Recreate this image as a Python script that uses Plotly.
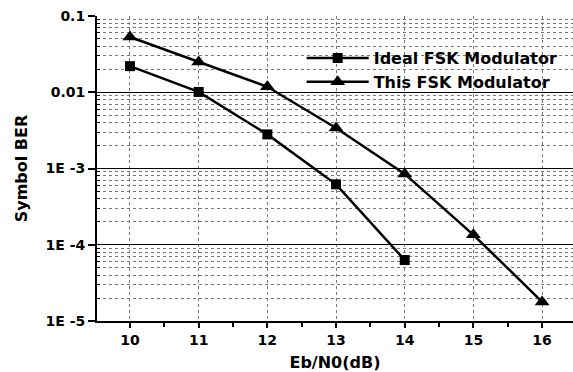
import plotly.graph_objects as go

snr_ideal = [10, 11, 12, 13, 14]
ber_ideal = [0.022, 0.0101, 0.0028, 0.00062, 0.000063]
snr_this = [10, 11, 12, 13, 14, 15, 16]
ber_this = [0.053, 0.025, 0.0118, 0.0034, 0.00085, 0.000135, 0.0000178]

y_tickvals = [1e-1, 1e-2, 1e-3, 1e-4, 1e-5]
y_ticktext = ["0.1", "0.01", "1E -3", "1E -4", "1E -5"]
x_tickvals = [10, 11, 12, 13, 14, 15, 16]
y_major_grid = [1e-2, 1e-3, 1e-4]
y_minor = [k * 10.0 ** e for e in range(-5, -1) for k in range(2, 10)]
x_minor = [9.5 + i for i in range(8)]

font = "DejaVu Sans, Liberation Sans, Arial, sans-serif"

fig = go.Figure()
fig.add_trace(go.Scatter(
    x=snr_ideal, y=ber_ideal, name="Ideal FSK Modulator", mode="lines+markers",
    line=dict(color="black", width=2.5),
    marker=dict(symbol="square", size=10, color="black")))
fig.add_trace(go.Scatter(
    x=snr_this, y=ber_this, name="This FSK Modulator", mode="lines+markers",
    line=dict(color="black", width=2.5),
    marker=dict(symbol="triangle-up", size=13, color="black")))
fig.add_trace(go.Scatter(x=[], y=[], yaxis="y2", showlegend=False))

fig.update_layout(
    width=573, height=372,
    margin=dict(l=97, r=0, t=16, b=51),
    paper_bgcolor="white", plot_bgcolor="white",
    font=dict(family=font, color="black"),
    showlegend=True,
    legend=dict(x=0.43, y=0.918, xanchor="left", yanchor="top",
                bgcolor="rgba(0,0,0,0)", itemwidth=62,
                font=dict(size=16, family=font, weight="bold"),
                tracegroupgap=0),
    xaxis=dict(
        range=[9.52, 16.45], tickvals=x_tickvals,
        ticks="outside", ticklen=5, tickwidth=2, tickcolor="black",
        showline=True, linecolor="black", linewidth=2,
        showgrid=True, gridcolor="#777", griddash="dot", gridwidth=1,
        zeroline=False,
        tickfont=dict(size=14, family=font, weight="bold"),
        title=dict(text="Eb/N0(dB)", font=dict(size=16, family=font, weight="bold"), standoff=12),
        minor=dict(tickvals=x_minor, ticks="outside", ticklen=4, tickwidth=2,
                   tickcolor="black", showgrid=False),
    ),
    yaxis=dict(
        type="log", range=[-5, -1], tickvals=y_tickvals, ticktext=y_ticktext,
        ticks="outside", ticklen=7, tickwidth=2, tickcolor="black",
        showline=True, linecolor="black", linewidth=2,
        showgrid=False, zeroline=False,
        tickfont=dict(size=14, family=font, weight="bold"),
        title=dict(text="Symbol BER", font=dict(size=16, family=font, weight="bold"), standoff=14),
        minor=dict(tickvals=y_minor, ticks="inside", ticklen=3, tickwidth=1,
                   tickcolor="black", showgrid=True, gridcolor="#777",
                   griddash="dot", gridwidth=1),
    ),
    yaxis2=dict(
        type="log", range=[-5, -1], overlaying="y", tickvals=y_major_grid,
        showticklabels=False, ticks="", showgrid=True, gridcolor="black",
        gridwidth=1, zeroline=False, showline=False,
    ),
)

fig.write_html("out.html", config={"displayModeBar": False},
               post_script="document.body.style.margin='0';")
